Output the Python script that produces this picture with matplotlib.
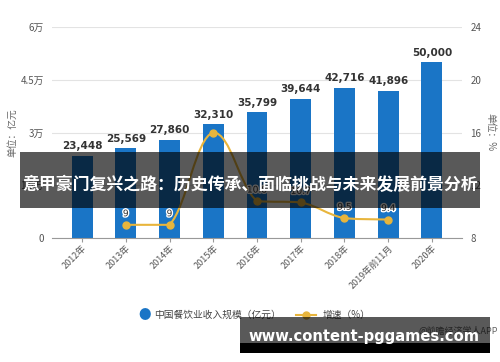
import matplotlib
matplotlib.use("Agg")
import matplotlib.pyplot as plt
import matplotlib.patheffects as pe
from matplotlib.path import Path
from matplotlib.patches import PathPatch, Rectangle
import numpy as np

plt.rcParams['font.family'] = ['Noto Sans CJK SC', 'DejaVu Sans']

years = ["2012年", "2013年", "2014年", "2015年", "2016年", "2017年",
         "2018年", "2019年前11月", "2020年"]
revenue = [23448, 25569, 27860, 32310, 35799, 39644, 42716, 41896, 50000]
growth_idx = [1, 2, 3, 4, 5, 6, 7]
growth = [9.0, 9.0, 16.0, 10.8, 10.7, 9.5, 9.4]
growth_labels = ["9", "9", "", "10.8", "10.7", "9.5", "9.4"]
left_ticks = [0, 15000, 30000, 45000, 60000]
left_ticklabels = ["0", "1.5万", "3万", "4.5万", "6万"]
right_ticks = [8, 12, 16, 20, 24]

BLUE = "#1a75c6"
GOLD = "#e8b53c"

fig = plt.figure(figsize=(5, 3.62), dpi=100)
ax = fig.add_axes([0.104, 0.3425, 0.82, 0.5829])
ax2 = ax.twinx()

x = np.arange(len(years))
ax.bar(x, revenue, width=0.48, color=BLUE, zorder=2)
for xi, v in zip(x, revenue):
    ax.text(xi, v + 1300, f"{v:,}", ha="center", va="bottom", fontsize=7.5,
            fontweight="bold", color="#333333", family="DejaVu Sans", zorder=4)

ax.set_xlim(-0.686, 8.686)
ax.set_ylim(0, 60000)
ax.set_yticks(left_ticks)
ax.set_yticklabels(left_ticklabels)
ax.grid(axis="y", color="#e3e3e3", linewidth=0.8, zorder=0)
ax.set_axisbelow(True)
for s in ["top", "right", "left"]:
    ax.spines[s].set_visible(False)
ax.spines["bottom"].set_color("#999999")
ax.tick_params(axis="y", length=0, labelsize=7, labelcolor="#555555", pad=6)
ax.tick_params(axis="x", length=3, color="#999999", labelsize=6.5,
               labelcolor="#555555", pad=1)
ax.set_xticks(x)
ax.set_xticklabels(years, rotation=45, ha="right", rotation_mode="anchor")
ax.set_ylabel("单位：亿元", fontsize=7, color="#666666", labelpad=2)

# smooth growth line, control points kept inside each segment (no overshoot)
gx = np.array(growth_idx, dtype=float)
gy = np.array(growth, dtype=float)
k = 0.2
verts = [(gx[0], gy[0])]
codes = [Path.MOVETO]
for i in range(len(gx) - 1):
    p0 = i - 1 if i > 0 else i
    p3 = i + 2 if i + 2 < len(gx) else i + 1
    lo, hi = min(gy[i], gy[i + 1]), max(gy[i], gy[i + 1])
    c1y = np.clip(gy[i] + k * (gy[i + 1] - gy[p0]), lo, hi)
    c2y = np.clip(gy[i + 1] - k * (gy[p3] - gy[i]), lo, hi)
    c1 = (gx[i] + k * (gx[i + 1] - gx[p0]), c1y)
    c2 = (gx[i + 1] - k * (gx[p3] - gx[i]), c2y)
    verts += [c1, c2, (gx[i + 1], gy[i + 1])]
    codes += [Path.CURVE4] * 3
ax2.add_patch(PathPatch(Path(verts, codes), facecolor="none", edgecolor=GOLD,
                        linewidth=1.5, zorder=3))
ax2.plot(gx, gy, "o", color=GOLD, markersize=5, zorder=4)
for xi, v, lab in zip(gx, gy, growth_labels):
    if lab:
        ax2.text(xi, v + 0.5, lab, ha="center", va="bottom", fontsize=6.5,
                 color="#333333", family="DejaVu Sans", zorder=5,
                 path_effects=[pe.withStroke(linewidth=2, foreground="white")])

ax2.set_ylim(8, 24)
ax2.set_yticks(right_ticks)
for s in ["top", "right", "left", "bottom"]:
    ax2.spines[s].set_visible(False)
ax2.tick_params(axis="y", length=0, labelsize=7, labelcolor="#555555", pad=6)
ax2.set_ylabel("单位：%", fontsize=7, color="#666666", rotation=270, labelpad=10)

# legend
fig.text(0.29, 1 - 315 / 362, "●", color=BLUE, fontsize=9, ha="center", va="center")
fig.text(0.308, 1 - 315 / 362, "中国餐饮业收入规模（亿元）", fontsize=7,
         color="#444444", va="center")
fig.add_artist(plt.Line2D([0.592, 0.632], [1 - 315 / 362] * 2, color=GOLD,
                          linewidth=1.5, transform=fig.transFigure))
fig.add_artist(plt.Line2D([0.612], [1 - 315 / 362], marker="o", color=GOLD,
                          markersize=5, transform=fig.transFigure))
fig.text(0.645, 1 - 315 / 362, "增速（%）", fontsize=7, color="#444444", va="center")
fig.text(0.996, 1 - 331 / 362, "@前瞻经济学人APP", fontsize=6.5, color="#666666",
         ha="right", va="center")

# overlay banners
fig.add_artist(Rectangle((20 / 500, 1 - 208 / 362), 460 / 500, 56 / 362,
                         transform=fig.transFigure, color="black", alpha=0.65,
                         linewidth=0, zorder=10))
fig.text(0.5, 1 - 185 / 362, "意甲豪门复兴之路：历史传承、面临挑战与未来发展前景分析",
         fontsize=12.2, fontweight="bold", color="white", ha="center",
         va="center", zorder=11)
fig.add_artist(Rectangle((240 / 500, 1 - 353 / 362), 250 / 500, 36 / 362,
                         transform=fig.transFigure, color="black", alpha=0.65,
                         linewidth=0, zorder=10))
fig.add_artist(Rectangle((240 / 500, 1 - 353 / 362), 250 / 500, 10 / 362,
                         transform=fig.transFigure, color="black",
                         linewidth=0, zorder=10))
fig.text(248 / 500, 1 - 336 / 362, "www.content-pggames.com", fontsize=10.6,
         fontweight="bold", color="white", family="DejaVu Sans", ha="left",
         va="center", zorder=11)

fig.savefig("out.png", dpi=100)
